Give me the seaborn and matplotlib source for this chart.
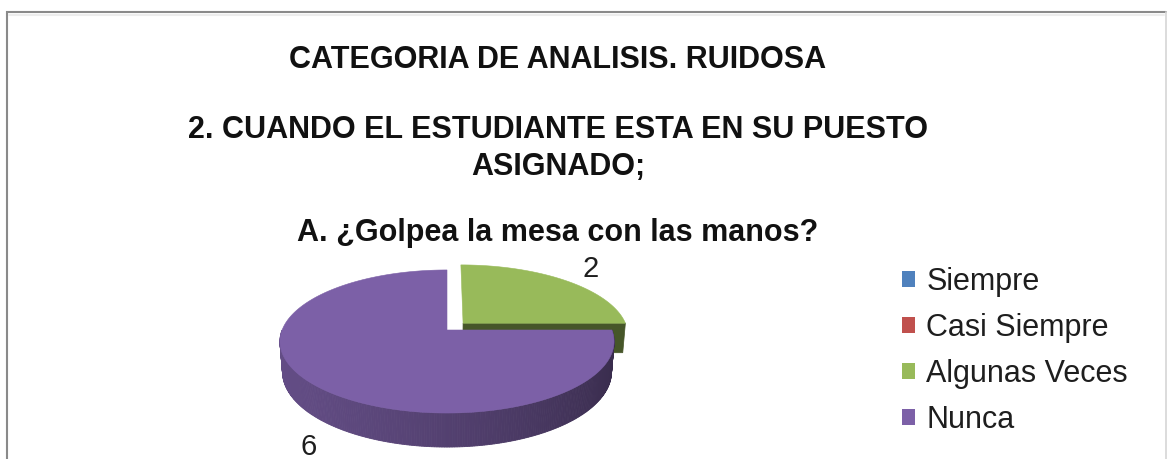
import numpy as np
import matplotlib
matplotlib.use("Agg")
import matplotlib.pyplot as plt
from matplotlib.patches import Patch, Polygon
from matplotlib.colors import to_rgb
import seaborn as sns

# ---- data -------------------------------------------------------------
categories = ["Siempre", "Casi Siempre", "Algunas Veces", "Nunca"]
counts = [0, 0, 2, 6]
title_lines = [
    "CATEGORIA DE ANALISIS. RUIDOSA",
    "2. CUANDO EL ESTUDIANTE ESTA EN SU PUESTO",
    "ASIGNADO;",
    "A. ¿Golpea la mesa con las manos?",
]

# ---- style ------------------------------------------------------------
sns.set_theme(style="white")
plt.rcParams["font.family"] = ["Liberation Sans", "DejaVu Sans"]
palette = sns.color_palette(["#4f81bd", "#c0504d", "#98ba5a", "#7c60a7"])
exploded = {"Algunas Veces": 0.14}

W, H_PX = 1170, 459
fig = plt.figure(figsize=(W / 100, H_PX / 100), dpi=100)
ax = fig.add_axes([0, 0, 1, 1])
ax.set_xlim(0, W)
ax.set_ylim(H_PX, 0)
ax.axis("off")

# chart area frame
ax.plot([7, 7, 1166], [470, 12, 12], color="#8a8a8a", lw=1.5, clip_on=False,
        solid_joinstyle="miter")
ax.plot([1166, 1166], [12, 470], color="#d6d6d6", lw=1.2, clip_on=False)
ax.plot([9, 1164], [14.5, 14.5], color="#ededed", lw=1.5)

# ---- 3-D pie projection -------------------------------------------------
CX, CY = 447.0, 330.0          # screen position of the pie centre
FOCAL, DIST = 930.0, 5.64      # perspective camera
TILT = np.radians(25.0)
THICK = 0.203                  # disc thickness (in radius units)


def proj(u, w, z=0.0):
    u, w, z = np.broadcast_arrays(np.asarray(u, float), np.asarray(w, float),
                                  np.asarray(z, float))
    yv = w * np.sin(TILT) + z * np.cos(TILT)
    dv = w * np.cos(TILT) - z * np.sin(TILT)
    return CX + FOCAL * u / (DIST + dv), CY - FOCAL * yv / (DIST + dv)


def mix(c1, c2, k):
    c1, c2 = np.array(to_rgb(c1)), np.array(to_rgb(c2))
    return tuple(c1 * (1 - k) + c2 * k)


vals = np.asarray(counts, float)
frac = vals / vals.sum()
ends = 90.0 - 360.0 * np.cumsum(frac)      # clockwise from 12 o'clock
starts = ends + 360.0 * frac

order = [i for i in range(len(vals)) if vals[i] > 0]
order.sort(key=lambda i: -np.sin(np.radians((starts[i] + ends[i]) / 2)))

for i in order:
    t1, t2 = np.radians(ends[i]), np.radians(starts[i])
    mid = (t1 + t2) / 2
    e = exploded.get(categories[i], 0.0)
    ou, ow = e * np.cos(mid), e * np.sin(mid)
    top = np.array(to_rgb(palette[i]))
    side_light = tuple(top * 0.80)
    side_dark = tuple(top * 0.46)

    # cut faces of the slice that turn toward the viewer
    for te, normal in ((t1, t1 - np.pi / 2), (t2, t2 + np.pi / 2)):
        if np.sin(normal) < -0.01:
            uu = [ou, ou + np.cos(te), ou + np.cos(te), ou]
            ww = [ow, ow + np.sin(te), ow + np.sin(te), ow]
            zz = [0, 0, -THICK, -THICK]
            px, py = proj(uu, ww, zz)
            ax.add_patch(Polygon(np.column_stack([px, py]), closed=True,
                                 facecolor=side_dark, edgecolor=side_dark,
                                 lw=0.5))

    # curved outer wall (front half only)
    ts = np.linspace(t1, t2, 361)
    for a, b in zip(ts[:-1], ts[1:]):
        if np.sin((a + b) / 2) >= 0:
            continue
        k = ((np.cos((a + b) / 2) + 1) / 2) ** 1.4
        col = mix(side_light, side_dark, k)
        uu = [ou + np.cos(a), ou + np.cos(b), ou + np.cos(b), ou + np.cos(a)]
        ww = [ow + np.sin(a), ow + np.sin(b), ow + np.sin(b), ow + np.sin(a)]
        zz = [0, 0, -THICK, -THICK]
        px, py = proj(uu, ww, zz)
        ax.add_patch(Polygon(np.column_stack([px, py]), closed=True,
                             facecolor=col, edgecolor=col, lw=0.6))

    # top face
    uu = np.concatenate([[ou], ou + np.cos(ts)])
    ww = np.concatenate([[ow], ow + np.sin(ts)])
    px, py = proj(uu, ww, 0.0)
    ax.add_patch(Polygon(np.column_stack([px, py]), closed=True,
                         facecolor=tuple(top), edgecolor=tuple(top), lw=0.4))

    # value label outside the slice
    if np.sin(mid) > 0:
        r_lab, z_lab = 1.29, 0.0
    else:
        r_lab, z_lab = 1.07, -THICK - 0.15
    lx, ly = proj(ou + r_lab * np.cos(mid), ow + r_lab * np.sin(mid), z_lab)
    ax.text(float(lx), float(ly), f"{counts[i]:g}", ha="center", va="center",
            fontsize=21, color="#1e1e1e")

# ---- titles -------------------------------------------------------------
for text, base in zip(title_lines, [68.5, 138.5, 175.0, 240.5]):
    ax.text(558, base, text, ha="center", va="baseline", fontsize=22,
            fontweight="bold", color="#111111")

# ---- legend -------------------------------------------------------------
handles = [Patch(facecolor=c, edgecolor="none") for c in palette]
ax.legend(handles, categories, loc="upper left",
          bbox_to_anchor=(902 / W, 1 - 267 / H_PX),
          bbox_transform=fig.transFigure, frameon=False, fontsize=22,
          handlelength=0.42, handleheight=0.42, handletextpad=0.38,
          labelspacing=0.52, borderpad=0, borderaxespad=0,
          labelcolor="#1e1e1e")

fig.savefig("out.png", dpi=100, facecolor="white")
